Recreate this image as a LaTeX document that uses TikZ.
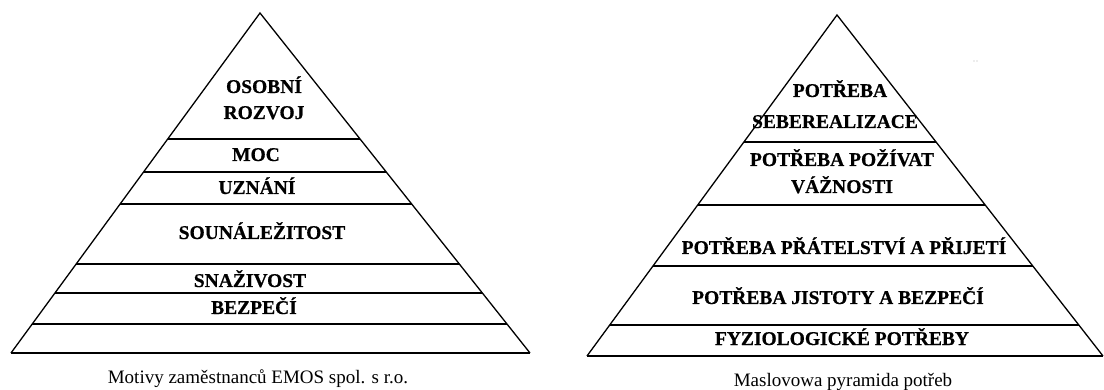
\documentclass[tikz,border=0pt]{standalone}
\usepackage{fontspec}
\setmainfont[BoldFeatures={FakeBold=0.6}]{Liberation Serif}
\usetikzlibrary{calc}
\begin{document}
\begin{tikzpicture}[x=1pt,y=-1pt,
  side/.style={line width=1.3pt, line join=miter},
  tier/.style={line width=1.9pt},
  lbl/.style={anchor=base, inner sep=0pt, font=\bfseries\fontsize{19.5}{22}\selectfont},
  captiontext/.style={anchor=base, inner sep=0pt, font=\fontsize{19}{22}\selectfont}]
\useasboundingbox (0,0) rectangle (1104,390);

% ---- Left pyramid: employee motives ----
\coordinate (LA) at (260,13);
\coordinate (LL) at (11,353);
\coordinate (LR) at (530,353);
\draw[side] (LL) -- (LA) -- (LR);
\draw[tier] (LL) -- (LR);
\foreach \t [count=\i] in {0.3706,0.4676,0.5618,0.7382,0.8235,0.9147}{
  \coordinate (Lp\i) at ($(LA)!\t!(LL)$);
  \coordinate (Lq\i) at ($(LA)!\t!(LR)$);
  \draw[tier] (Lp\i) -- (Lq\i);
}
\node[lbl] (l1a) at (264,93) {OSOBNÍ};
\node[lbl] (l1b) at (264,119) {ROZVOJ};
\node[lbl] (l2) at (256,161) {MOC};
\node[lbl] (l3) at (257,194) {UZNÁNÍ};
\node[lbl] (l4) at (262,239) {SOUNÁLEŽITOST};
\node[lbl] (l5) at (250,287) {SNAŽIVOST};
\node[lbl] (l6) at (254,314) {BEZPEČÍ};
\node[captiontext] (lcap) at (258,383) {Motivy zaměstnanců EMOS spol. s r.o.};

% ---- Right pyramid: Maslow's hierarchy ----
\coordinate (RA) at (837,15);
\coordinate (RL) at (587,356);
\coordinate (RR) at (1103,356);
\draw[side] (RL) -- (RA) -- (RR);
\draw[tier] (RL) -- (RR);
\foreach \t [count=\i] in {0.3724,0.5572,0.7361,0.9091}{
  \coordinate (Rp\i) at ($(RA)!\t!(RL)$);
  \coordinate (Rq\i) at ($(RA)!\t!(RR)$);
  \draw[tier] (Rp\i) -- (Rq\i);
}
\node[lbl] (r1a) at (840,97) {POTŘEBA};
\node[lbl] (r1b) at (835,128) {SEBEREALIZACE};
\node[lbl] (r2a) at (842,166) {POTŘEBA POŽÍVAT};
\node[lbl] (r2b) at (842,193) {VÁŽNOSTI};
\node[lbl] (r3) at (844,254) {POTŘEBA PŘÁTELSTVÍ A PŘIJETÍ};
\node[lbl] (r4) at (838,304) {POTŘEBA JISTOTY A BEZPEČÍ};
\node[lbl] (r5) at (842,345) {FYZIOLOGICKÉ POTŘEBY};
\node[captiontext] (rcap) at (843,386) {Maslovowa pyramida potřeb};

% two faint specks beside the right pyramid
\fill[gray!60] (974,61) circle (0.7pt) (977,61) circle (0.7pt);
\end{tikzpicture}
\end{document}
